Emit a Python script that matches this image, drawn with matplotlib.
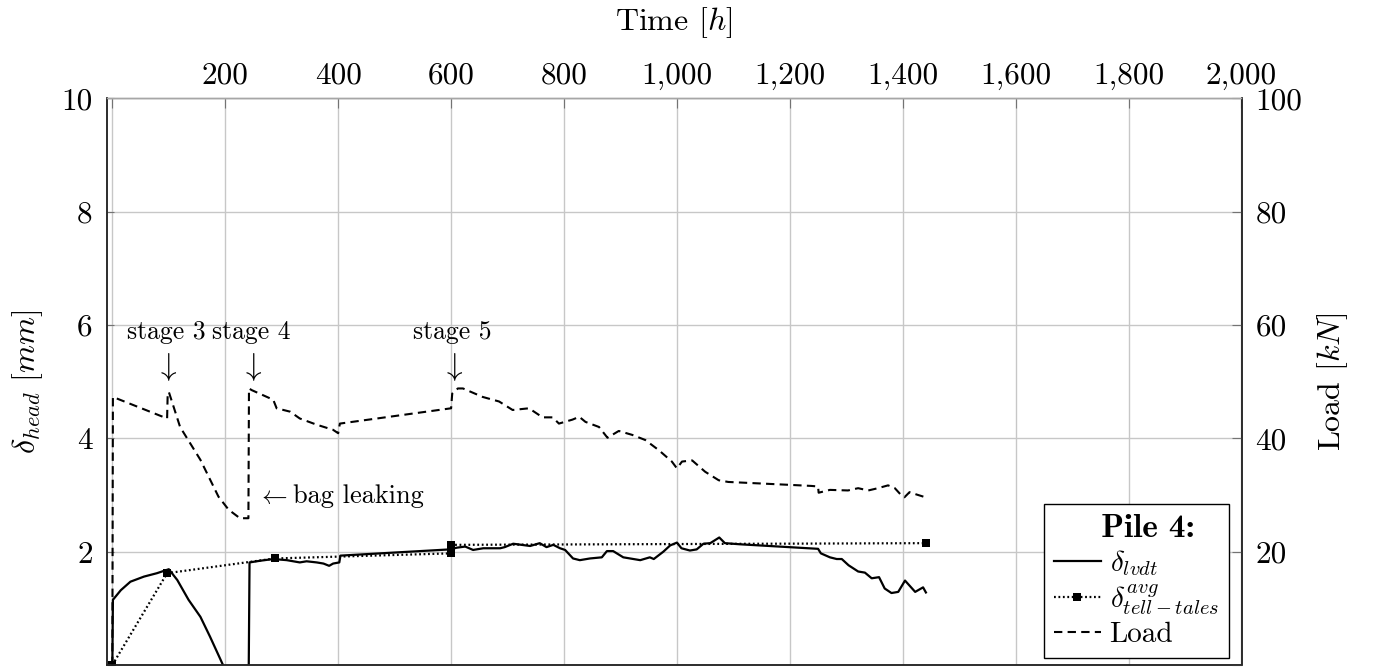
import matplotlib
matplotlib.use("Agg")
import matplotlib.pyplot as plt
from matplotlib.ticker import FuncFormatter

plt.rcParams['font.family'] = ['cmr10', 'DejaVu Serif']
plt.rcParams['mathtext.fontset'] = 'cm'
plt.rcParams['axes.formatter.use_mathtext'] = True
plt.rcParams['lines.scale_dashes'] = False

# ---------------- data ----------------
load_t = [0, 1, 97, 98, 100, 120, 156, 188, 206, 226, 241, 242, 247, 285, 291, 315,
          332, 362, 391, 400, 403, 600, 602, 612, 621, 656, 685, 709, 738, 762, 780,
          791, 815, 827, 838, 862, 877, 897, 921, 944, 968, 991, 1000, 1009, 1027,
          1050, 1074, 1091, 1197, 1238, 1250, 1251, 1271, 1303, 1321, 1339, 1356,
          1374, 1386, 1397, 1403, 1412, 1424, 1440]
load_kn = [0, 47.3, 43.5, 47.8, 48.2, 42.0, 36.2, 29.7, 27.4, 25.9, 25.9, 48.8, 48.5,
           46.8, 45.3, 44.7, 43.5, 42.4, 41.5, 40.9, 42.6, 45.3, 47.9, 48.8, 48.8,
           47.3, 46.5, 45.0, 45.3, 43.7, 43.7, 42.6, 43.3, 43.8, 42.9, 42.0, 40.1,
           41.3, 40.6, 39.7, 37.9, 35.9, 34.7, 35.9, 36.1, 34.1, 32.6, 32.3, 31.8,
           31.6, 31.5, 30.4, 30.9, 30.8, 31.2, 30.8, 31.2, 31.7, 31.2, 30.0, 29.6,
           30.5, 30.1, 29.6]

lvdt_t = [0, 1, 15, 32, 56, 79, 100, 115, 135, 156, 173, 196, 241,
          243, 262, 285, 309, 332, 344, 362, 374, 384, 391, 402, 404,
          598, 610, 625, 639, 657, 687, 695, 710, 740, 757, 769, 781, 793, 802,
          816, 828, 846, 867, 876, 887, 905, 935, 952, 959, 976, 988, 1000, 1008,
          1023, 1035, 1047, 1059, 1075, 1085, 1112,
          1250, 1255, 1271, 1283, 1292, 1304, 1321, 1333, 1345, 1358, 1368, 1380,
          1392, 1404, 1422, 1436, 1441]
lvdt_mm = [0, 1.15, 1.32, 1.47, 1.56, 1.62, 1.69, 1.50, 1.15, 0.85, 0.50, 0.0, -0.8,
           1.81, 1.84, 1.87, 1.85, 1.81, 1.83, 1.81, 1.79, 1.75, 1.79, 1.81, 1.93,
           2.04, 2.07, 2.09, 2.03, 2.06, 2.06, 2.08, 2.14, 2.10, 2.15, 2.08, 2.12,
           2.06, 2.03, 1.88, 1.85, 1.88, 1.90, 2.01, 2.01, 1.90, 1.85, 1.90, 1.87,
           2.00, 2.11, 2.16, 2.06, 2.02, 2.04, 2.14, 2.15, 2.25, 2.15, 2.13,
           2.05, 1.97, 1.90, 1.87, 1.87, 1.76, 1.65, 1.63, 1.53, 1.55, 1.35, 1.27,
           1.29, 1.49, 1.29, 1.37, 1.28]

tt_t = [0, 97, 288, 600, 600, 1441]
tt_mm = [0, 1.62, 1.88, 1.97, 2.12, 2.15]

x_ticks = [0, 200, 400, 600, 800, 1000, 1200, 1400, 1600, 1800, 2000]
y_ticks = [0, 2, 4, 6, 8, 10]
load_ticks = [0, 20, 40, 60, 80, 100]

annotations = [("stage 3", 96), ("stage 4", 246), ("stage 5", 602)]

# ---------------- figure ----------------
W, H = 1373, 669
fig = plt.figure(figsize=(W / 100, H / 100), dpi=100)
left_px, right_px, top_px, bot_px = 106.7, 1241.5, 98.3, 665.0
ax = fig.add_axes([left_px / W, (H - bot_px) / H, (right_px - left_px) / W,
                   (bot_px - top_px) / H])
ax2 = ax.twinx()

ax.set_xlim(-10, 2000)
ax.set_ylim(0, 10)
ax2.set_ylim(0, 100)

fs = 22.5
comma = FuncFormatter(lambda v, p: "" if v == 0 else f"{int(round(v)):,}")

ax.set_xticks(x_ticks)
ax.xaxis.set_major_formatter(comma)
ax.set_yticks(y_ticks)
ax.yaxis.set_major_formatter(comma)
ax2.set_yticks(load_ticks)
ax2.yaxis.set_major_formatter(comma)

ax.xaxis.tick_top()
ax.tick_params(axis='x', which='both', top=True, bottom=False, labeltop=True,
               labelbottom=False, direction='in', length=7, width=0.8,
               color='0.45', labelsize=fs, pad=6)
ax.tick_params(axis='y', direction='in', length=5, width=0.8, color='0.45',
               labelsize=fs, pad=10, right=False)
ax2.tick_params(axis='y', direction='in', length=7, width=0.8, color='0.45',
                labelsize=fs, pad=10)

ax.grid(True, color='0.78', lw=1.0)
ax.set_axisbelow(True)

for a in (ax, ax2):
    for s in ('left', 'right', 'bottom'):
        a.spines[s].set_color('0.15')
        a.spines[s].set_linewidth(1.1)
    a.spines['top'].set_color('0.65')
    a.spines['top'].set_linewidth(1.0)

# data
l1, = ax.plot(lvdt_t, lvdt_mm, color='black', lw=1.6, solid_joinstyle='round')
l2, = ax.plot(tt_t, tt_mm, color='black', lw=1.6, linestyle=(0, (1.3, 1.9)),
              marker='s', markersize=5.5, markeredgewidth=0)
l3, = ax2.plot(load_t, load_kn, color='black', lw=1.5, linestyle=(0, (6.0, 3.8)))

# labels
ax.set_xlabel(r'Time $[h]$', fontsize=23)
ax.xaxis.set_label_position('top')
ax.xaxis.set_label_coords(0.5, (bot_px - 23) / (bot_px - top_px))
ax.xaxis.label.set_va('center')

ax.set_ylabel(r'$\delta_{head}\ [mm]$', fontsize=23)
ax.yaxis.set_label_coords((27.5 - left_px) / (right_px - left_px), 0.5)
ax.yaxis.label.set_va('center')

ax2.set_ylabel(r'Load $[kN]$', fontsize=23)
ax2.yaxis.set_label_coords((1333 - left_px) / (right_px - left_px), 0.5)
ax2.yaxis.label.set_va('center')

# annotations
afs = 18.5
for txt, t in annotations:
    ax.text(t, 5.75, txt, fontsize=afs, ha='center', va='baseline')
    ax.text(t, 5.25, r'$\downarrow$', fontsize=afs + 4, ha='center', va='center')
ax.text(256, 2.86, r'$\leftarrow$', fontsize=afs, ha='left', va='baseline')
ax.text(320, 2.86, 'bag leaking', fontsize=afs + 0.5, ha='left', va='baseline')

# legend
leg = ax2.legend([l1, l2, l3],
                 [r'$\delta_{lvdt}$', r'$\delta^{avg}_{tell-tales}$', 'Load'],
                 title='  Pile 4:', loc='lower right',
                 bbox_to_anchor=((1229 - left_px) / (right_px - left_px),
                                 (bot_px - 658) / (bot_px - top_px)),
                 borderaxespad=0, fontsize=21, frameon=True, fancybox=False,
                 edgecolor='black', framealpha=1, handlelength=1.6,
                 handletextpad=0.3, borderpad=0.35, labelspacing=0.15,
                 title_fontproperties={'family': 'cmb10', 'size': 24})
leg.get_frame().set_linewidth(1.0)

fig.savefig('out.png', dpi=100)
